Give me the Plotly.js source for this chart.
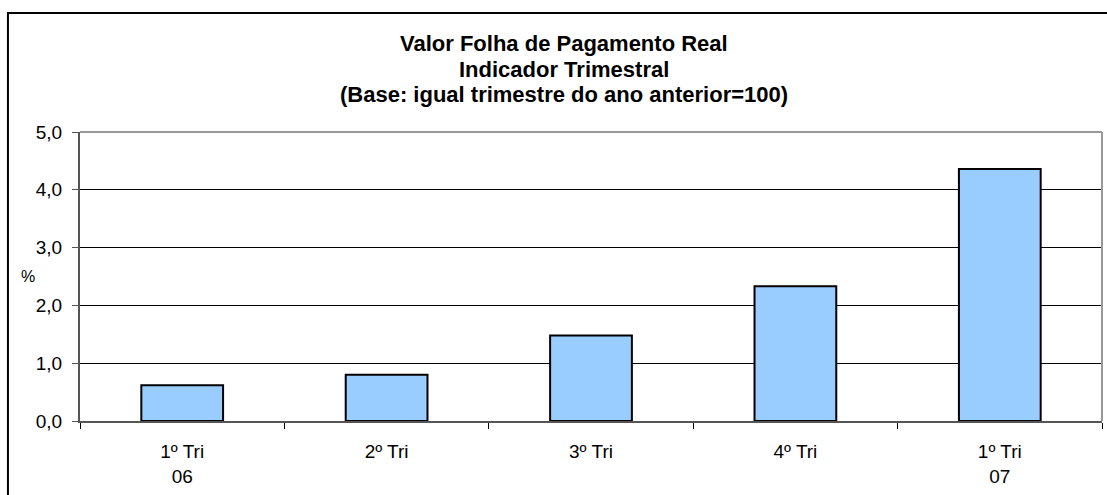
<!DOCTYPE html>
<html>
<head>
<meta charset="utf-8">
<script src="https://cdn.plot.ly/plotly-3.0.1.min.js"></script>
<style>html,body{margin:0;padding:0;background:#fff;}#chart{width:1107px;height:495px;}</style>
</head>
<body>
<div id="chart"></div>
<script>
var categories = ["1º Tri<br>06", "2º Tri", "3º Tri", "4º Tri", "1º Tri<br>07"];
var values = [0.62, 0.80, 1.48, 2.33, 4.36];
var yTickVals = [0, 1, 2, 3, 4, 5];
var titleLines = ["Valor Folha de Pagamento Real", "Indicador Trimestral", "(Base: igual trimestre do ano anterior=100)"];
var yLabel = "%";

var FONT = "Liberation Sans, Arial, sans-serif";

var trace = {
  type: "bar",
  x: categories,
  y: values,
  width: 0.4,
  marker: {color: "#99CCFF", line: {color: "#000000", width: 2}},
  hoverinfo: "skip"
};

var titleY = [1.306, 1.217, 1.130];
var annotations = titleLines.map(function (t, i) {
  return {text: "<b>" + t + "</b>", xref: "paper", yref: "paper", x: 0.4736, y: titleY[i],
    xanchor: "center", yanchor: "middle", showarrow: false,
    font: {family: FONT, size: 22, color: "#000000"}};
});
annotations.push({text: yLabel, xref: "paper", yref: "paper", x: -0.0508, y: 0.5,
  xanchor: "center", yanchor: "middle", showarrow: false,
  font: {family: FONT, size: 16, color: "#000000"}});

var layout = {
  width: 1107, height: 495,
  margin: {l: 80, r: 5, t: 132, b: 74, pad: 0},
  paper_bgcolor: "#ffffff",
  plot_bgcolor: "#ffffff",
  font: {family: FONT, size: 18, color: "#000000"},
  separators: ",.",
  showlegend: false,
  xaxis: {
    type: "category",
    tickson: "boundaries",
    ticks: "outside", ticklen: 6, tickcolor: "#000000", tickwidth: 1,
    ticklabelstandoff: 12,
    showline: true, linecolor: "#555555", linewidth: 2,
    showgrid: false, zeroline: false,
    tickfont: {family: FONT, size: 19, color: "#000000"},
    fixedrange: true
  },
  yaxis: {
    range: [0, 5],
    tickvals: yTickVals,
    tickformat: ".1f",
    ticks: "outside", ticklen: 6, tickcolor: "#555555", tickwidth: 1,
    ticklabelstandoff: 6,
    showline: true, linecolor: "#555555", linewidth: 2,
    showgrid: true, gridcolor: "#000000", gridwidth: 1,
    zeroline: false,
    tickfont: {family: FONT, size: 19, color: "#000000"},
    fixedrange: true
  },
  shapes: [
    {type: "line", xref: "paper", yref: "paper", x0: 0, x1: 1, y0: 1, y1: 1, line: {color: "#999999", width: 2}},
    {type: "line", xref: "paper", yref: "paper", x0: 1, x1: 1, y0: 0, y1: 1, line: {color: "#999999", width: 2}},
    {type: "rect", xref: "paper", yref: "paper", x0: -0.0705, x1: 1.2, y0: -0.5, y1: 1.412, line: {color: "#000000", width: 2}, fillcolor: "rgba(0,0,0,0)", layer: "below"}
  ],
  annotations: annotations
};

Plotly.newPlot("chart", [trace], layout, {displayModeBar: false, staticPlot: true});
</script>
</body>
</html>
